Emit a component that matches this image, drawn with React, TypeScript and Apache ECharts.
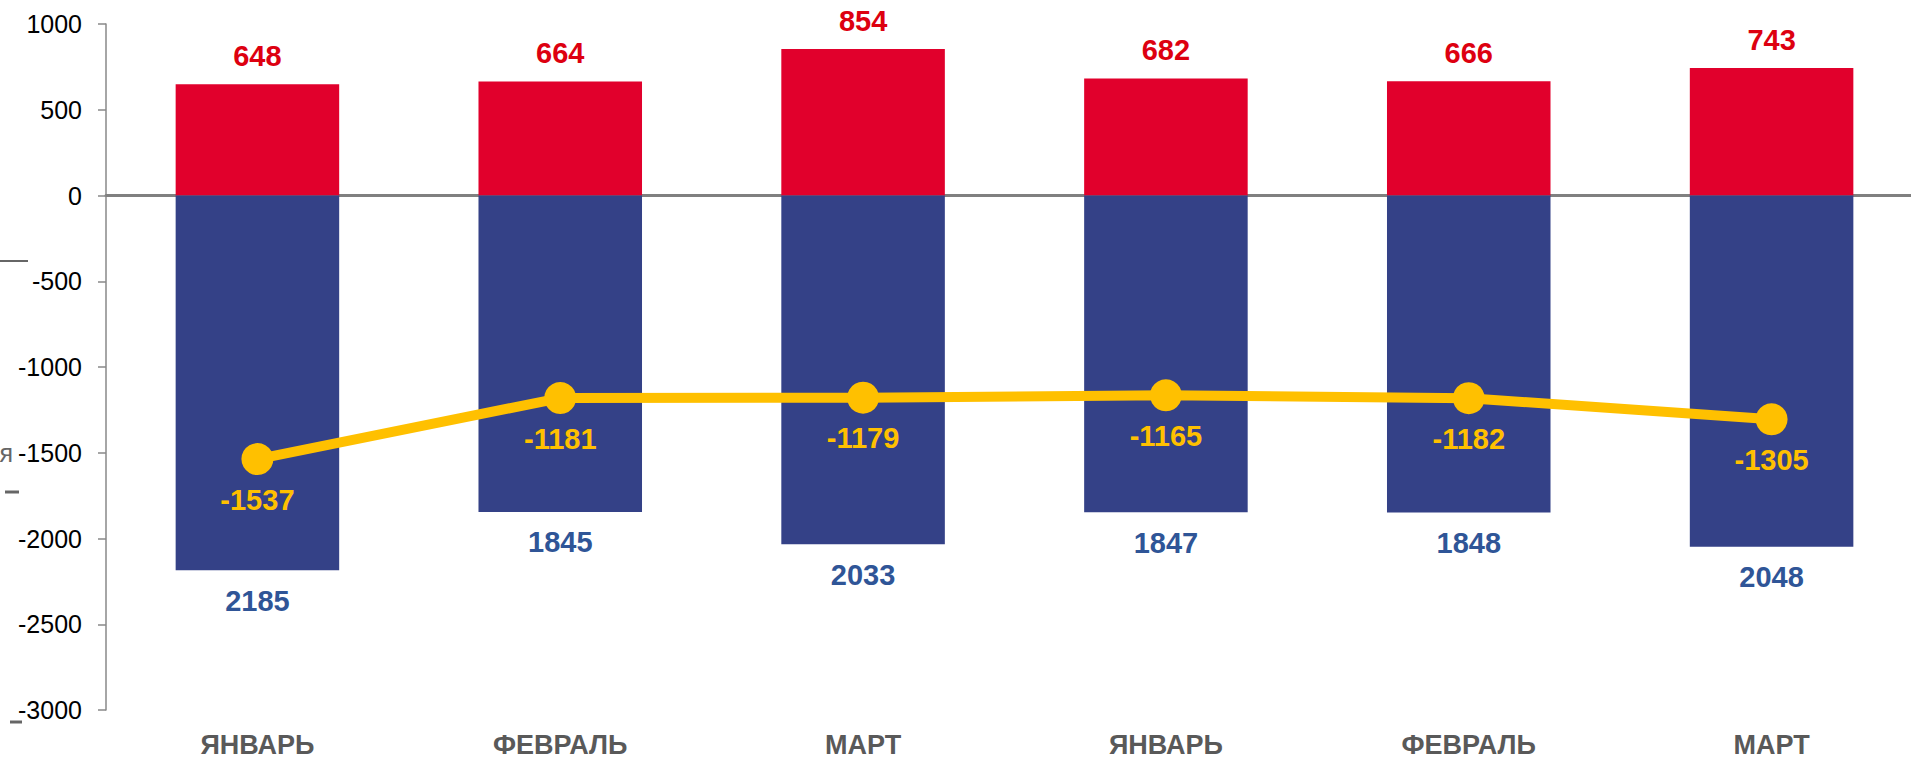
import React, { useEffect, useRef } from "react";
import * as echarts from "echarts";

const categories = ["ЯНВАРЬ", "ФЕВРАЛЬ", "МАРТ", "ЯНВАРЬ", "ФЕВРАЛЬ", "МАРТ"];
const redValues = [648, 664, 854, 682, 666, 743];
const blueValues = [-2185, -1845, -2033, -1847, -1848, -2048];
const lineValues = [-1537, -1181, -1179, -1165, -1182, -1305];

const FONT = "'Liberation Sans', Arial, sans-serif";

export default function App() {
  const ref = useRef<HTMLDivElement>(null);
  useEffect(() => {
    if (!ref.current) return;
    const chart = echarts.init(ref.current, undefined, { renderer: "svg" });
    chart.setOption({
      animation: false,
      backgroundColor: "#ffffff",
      textStyle: { fontFamily: FONT },
      grid: { left: 106, right: 0, top: 24, bottom: 47, containLabel: false },
      xAxis: [
        {
          type: "category",
          data: categories,
          position: "bottom",
          axisLine: { show: false, onZero: false },
          axisTick: { show: false },
          axisLabel: {
            fontFamily: FONT,
            fontSize: 27,
            fontWeight: "bold",
            color: "#595959",
            margin: 21,
          },
        },
        {
          type: "category",
          data: categories,
          position: "bottom",
          axisLine: { show: true, onZero: true, lineStyle: { color: "#808080", width: 3 } },
          axisTick: { show: false },
          axisLabel: { show: false },
        },
      ],
      yAxis: {
        type: "value",
        min: -3000,
        max: 1000,
        interval: 500,
        splitLine: { show: false },
        axisLine: { show: true, lineStyle: { color: "#898989", width: 1.5 } },
        axisTick: { show: true, length: 8, lineStyle: { color: "#898989", width: 1.5 } },
        axisLabel: {
          fontFamily: FONT,
          fontSize: 25,
          color: "#000000",
          margin: 24,
          formatter: (v: number) => String(v),
        },
      },
      series: [
        {
          type: "bar",
          stack: "a",
          data: redValues,
          barWidth: "54%",
          itemStyle: { color: "#E1002C" },
          label: {
            show: true,
            position: "top",
            distance: 14,
            fontFamily: FONT,
            fontSize: 29,
            fontWeight: "bold",
            color: "#DD0010",
          },
        },
        {
          type: "bar",
          stack: "a",
          data: blueValues,
          barWidth: "54%",
          itemStyle: { color: "#344187" },
          label: {
            show: true,
            position: "bottom",
            distance: 16,
            fontFamily: FONT,
            fontSize: 29,
            fontWeight: "bold",
            color: "#2F5597",
            formatter: (p: any) => String(Math.abs(p.value)),
          },
        },
        {
          type: "line",
          data: lineValues,
          symbol: "circle",
          symbolSize: 32,
          lineStyle: { color: "#FFC000", width: 10 },
          itemStyle: { color: "#FFC000" },
          label: {
            show: true,
            position: "bottom",
            distance: 10,
            fontFamily: FONT,
            fontSize: 29,
            fontWeight: "bold",
            color: "#FFC000",
          },
          z: 5,
        },
      ],
      graphic: [
        { type: "line", shape: { x1: 0, y1: 261, x2: 28, y2: 261 }, style: { stroke: "#666666", lineWidth: 2 } },
        {
          type: "text",
          x: 13,
          y: 453,
          style: {
            text: "я",
            fontFamily: FONT,
            fontSize: 25,
            fill: "#666666",
            align: "right",
            verticalAlign: "middle",
          },
        },
        { type: "line", shape: { x1: 5, y1: 492, x2: 19, y2: 492 }, style: { stroke: "#666666", lineWidth: 3 } },
        { type: "line", shape: { x1: 10, y1: 722, x2: 22, y2: 722 }, style: { stroke: "#666666", lineWidth: 3 } },
      ],
    });
    return () => chart.dispose();
  }, []);
  return (
    <div
      style={{
        position: "fixed",
        left: 0,
        top: 0,
        width: 1911,
        height: 758,
        overflow: "hidden",
        background: "#ffffff",
      }}
    >
      <div ref={ref} style={{ width: 1923, height: 758 }} />
    </div>
  );
}
